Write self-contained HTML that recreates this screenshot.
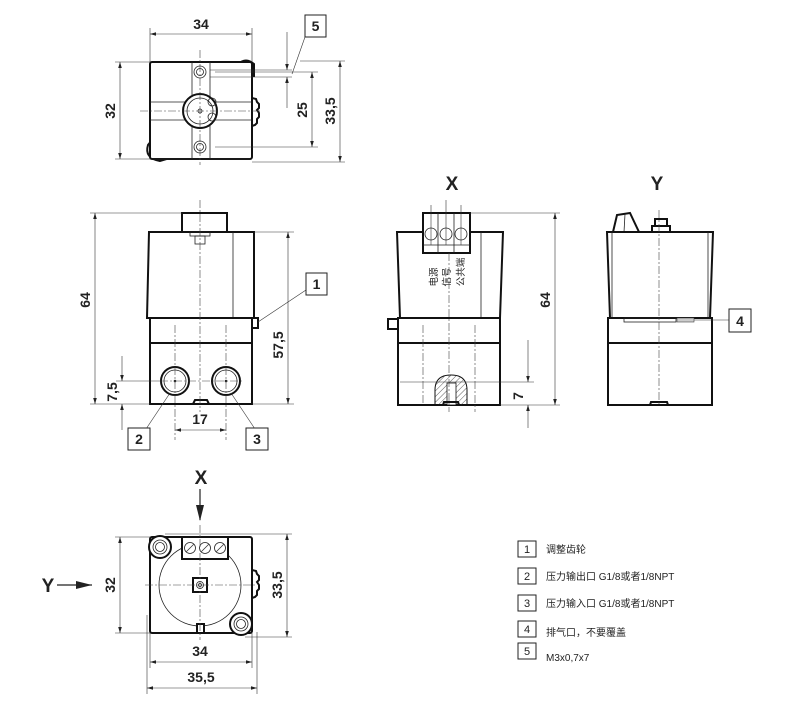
<!DOCTYPE html>
<html><head><meta charset="utf-8"><style>
html,body{margin:0;padding:0;background:#fff}
svg{display:block}
text{font-family:"Liberation Sans","Noto Sans CJK SC",sans-serif;fill:#222}
.o{fill:none;stroke:#111;stroke-width:2}
.w{fill:#fff;stroke:#111;stroke-width:2}
.t{fill:none;stroke:#222;stroke-width:0.8}
.d{fill:none;stroke:#333;stroke-width:0.6}
.c{fill:none;stroke:#444;stroke-width:0.6;stroke-dasharray:8 2 2 2}
.b{fill:#fff;stroke:#222;stroke-width:1}
.dim{font-size:14px;font-weight:bold}
.lg{font-size:10px}
</style></head><body>
<svg width="790" height="708" viewBox="0 0 790 708" xmlns="http://www.w3.org/2000/svg">
<defs>
<marker id="a" viewBox="0 0 10 10" refX="10" refY="5" markerWidth="9" markerHeight="6" orient="auto-start-reverse" markerUnits="userSpaceOnUse"><path d="M0,2 L10,5 L0,8z" fill="#222"/></marker>
<pattern id="h" width="4" height="4" patternUnits="userSpaceOnUse" patternTransform="rotate(45)"><line x1="0" y1="0" x2="0" y2="4" stroke="#333" stroke-width="0.8"/></pattern>
</defs>

<!-- ============ TOP VIEW ============ -->
<path class="w" d="M238,64 Q246,57 254,64 L254,76 L248,76z"/>
<path class="w" d="M148,145 Q144,158 160,161 L170,158 L152,140z"/>
<rect class="w" x="150" y="62" width="102" height="97" rx="2"/>
<path class="o" d="M252,98 l4,1 l1,3 l2,2 l0,4 l-2,2 l2,3 l0,4 l-2,2 l0,4 l-2,2 l-3,1" stroke-width="1.2"/>
<line class="t" x1="192" y1="62" x2="192" y2="159"/>
<line class="t" x1="210" y1="62" x2="210" y2="159"/>
<line class="t" x1="150" y1="102" x2="252" y2="102"/>
<line class="t" x1="150" y1="120" x2="252" y2="120"/>
<circle class="w" cx="200" cy="111" r="17" stroke-width="1.2"/>
<circle class="t" cx="200" cy="111" r="13"/>
<circle class="t" cx="200" cy="111" r="2"/>
<circle class="t" cx="212" cy="102" r="4"/><circle class="t" cx="212" cy="117" r="4"/>
<circle class="t" cx="200" cy="72" r="6"/><circle class="t" cx="200" cy="72" r="3.5"/>
<circle class="t" cx="200" cy="147" r="6"/><circle class="t" cx="200" cy="147" r="3.5"/>
<line class="c" x1="200" y1="50" x2="200" y2="165"/>
<line class="c" x1="140" y1="111" x2="262" y2="111"/>
<line class="d" x1="150" y1="28" x2="150" y2="62"/><line class="d" x1="252" y1="28" x2="252" y2="62"/>
<line class="d" x1="150" y1="34" x2="252" y2="34" marker-start="url(#a)" marker-end="url(#a)"/>
<text class="dim" x="201" y="29" text-anchor="middle">34</text>
<line class="d" x1="115" y1="62" x2="150" y2="62"/><line class="d" x1="115" y1="159" x2="250" y2="159"/>
<line class="d" x1="120" y1="62" x2="120" y2="159" marker-start="url(#a)" marker-end="url(#a)"/>
<text class="dim" transform="translate(115,111) rotate(-90)" text-anchor="middle">32</text>
<line class="d" x1="215" y1="72" x2="318" y2="72"/><line class="d" x1="215" y1="147" x2="318" y2="147"/>
<line class="d" x1="312" y1="72" x2="312" y2="147" marker-start="url(#a)" marker-end="url(#a)"/>
<text class="dim" transform="translate(307,110) rotate(-90)" text-anchor="middle">25</text>
<line class="d" x1="300" y1="61" x2="345" y2="61"/><line class="d" x1="252" y1="162" x2="345" y2="162"/>
<line class="d" x1="340" y1="61" x2="340" y2="162" marker-start="url(#a)" marker-end="url(#a)"/>
<text class="dim" transform="translate(335,111) rotate(-90)" text-anchor="middle">33,5</text>
<line class="d" x1="210" y1="70" x2="292" y2="70"/><line class="d" x1="210" y1="77" x2="292" y2="77"/>
<line class="d" x1="287" y1="32" x2="287" y2="70" marker-end="url(#a)"/>
<line class="d" x1="287" y1="108" x2="287" y2="77" marker-end="url(#a)"/>
<line class="d" x1="292" y1="74" x2="305" y2="37"/>
<rect class="b" x="305" y="15" width="21" height="22"/>
<text class="dim" x="315.5" y="31" text-anchor="middle">5</text>

<!-- ============ FRONT VIEW ============ -->
<rect class="w" x="182" y="213" width="45" height="20"/>
<path class="w" d="M149,232 L254,232 L254,318 L147,318z"/>
<line class="t" x1="233" y1="232" x2="233" y2="318"/>
<rect class="t" x="190" y="232" width="20" height="4"/><rect class="t" x="195" y="236" width="10" height="8"/>
<rect class="w" x="150" y="318" width="102" height="86"/>
<line class="o" x1="150" y1="343" x2="252" y2="343" stroke-width="1.4"/>
<path class="o" d="M193,404 l2,-4 h12 l2,4" stroke-width="1.2"/>
<rect class="w" x="252" y="318" width="6" height="10" stroke-width="1"/>
<circle class="w" cx="175" cy="381" r="14" stroke-width="1.2"/><circle class="t" cx="175" cy="381" r="11" stroke-width="1.4"/><circle cx="175" cy="381" r="1.3" fill="#222"/>
<circle class="w" cx="226" cy="381" r="14" stroke-width="1.2"/><circle class="t" cx="226" cy="381" r="11" stroke-width="1.4"/><circle cx="226" cy="381" r="1.3" fill="#222"/>
<line class="c" x1="200" y1="200" x2="200" y2="412"/>
<line class="c" x1="175" y1="325" x2="175" y2="440"/><line class="c" x1="226" y1="325" x2="226" y2="440"/>
<line class="c" x1="160" y1="381" x2="242" y2="381"/>
<line class="d" x1="90" y1="213" x2="182" y2="213"/><line class="d" x1="90" y1="404" x2="150" y2="404"/>
<line class="d" x1="95" y1="213" x2="95" y2="404" marker-start="url(#a)" marker-end="url(#a)"/>
<text class="dim" transform="translate(90,300) rotate(-90)" text-anchor="middle">64</text>
<line class="d" x1="254" y1="232" x2="294" y2="232"/><line class="d" x1="252" y1="404" x2="294" y2="404"/>
<line class="d" x1="288" y1="232" x2="288" y2="404" marker-start="url(#a)" marker-end="url(#a)"/>
<text class="dim" transform="translate(283,345) rotate(-90)" text-anchor="middle">57,5</text>
<line class="d" x1="116" y1="381" x2="160" y2="381"/>
<line class="d" x1="122" y1="356" x2="122" y2="381" marker-end="url(#a)"/>
<line class="d" x1="122" y1="430" x2="122" y2="404" marker-end="url(#a)"/>
<text class="dim" transform="translate(117,392) rotate(-90)" text-anchor="middle">7,5</text>
<line class="d" x1="175" y1="430" x2="226" y2="430" marker-start="url(#a)" marker-end="url(#a)"/>
<text class="dim" x="200" y="424" text-anchor="middle">17</text>
<line class="d" x1="258" y1="322" x2="306" y2="290"/>
<rect class="b" x="306" y="273" width="21" height="22"/><text class="dim" x="316.5" y="289" text-anchor="middle">1</text>
<line class="d" x1="170" y1="393" x2="146" y2="429"/>
<rect class="b" x="128" y="428" width="22" height="22"/><text class="dim" x="139" y="444" text-anchor="middle">2</text>
<line class="d" x1="231" y1="393" x2="255" y2="429"/>
<rect class="b" x="246" y="428" width="22" height="22"/><text class="dim" x="257" y="444" text-anchor="middle">3</text>

<!-- ============ X VIEW ============ -->
<text class="dim" x="452" y="190" text-anchor="middle" style="font-size:19px">X</text>
<path class="w" d="M397,232 L503,232 L500,318 L400,318z"/>
<line class="t" x1="481" y1="232" x2="481" y2="318"/>
<rect class="w" x="423" y="213" width="47" height="40"/>
<line class="t" x1="438" y1="213" x2="438" y2="253"/><line class="t" x1="454" y1="213" x2="454" y2="253"/>
<line class="t" x1="423" y1="245" x2="470" y2="245"/>
<circle class="t" cx="431" cy="234" r="6"/><circle class="t" cx="446" cy="234" r="6"/><circle class="t" cx="461" cy="234" r="6"/>
<line class="d" x1="431" y1="205" x2="431" y2="245"/><line class="d" x1="446" y1="200" x2="446" y2="245"/><line class="d" x1="461" y1="205" x2="461" y2="245"/>
<g font-size="9.5" fill="#333">
<text transform="translate(437,277) rotate(-90)" text-anchor="middle">电源</text>
<text transform="translate(450,277) rotate(-90)" text-anchor="middle">信号</text>
<text transform="translate(464,272) rotate(-90)" text-anchor="middle">公共端</text>
</g>
<rect class="w" x="398" y="318" width="102" height="87"/>
<line class="o" x1="398" y1="343" x2="500" y2="343" stroke-width="1.4"/>
<rect class="w" x="388" y="319" width="10" height="10" stroke-width="1"/>
<path d="M435,405 L435,390 Q435,375 451,375 Q467,375 467,390 L467,405z" fill="url(#h)" stroke="#111" stroke-width="1"/>
<rect x="447" y="383" width="9" height="22" fill="#fff" stroke="#111" stroke-width="0.8"/>
<path class="o" d="M443,405 l1,-3 h14 l1,3" stroke-width="1"/>
<line class="c" x1="449" y1="253" x2="449" y2="412"/>
<line class="c" x1="423" y1="325" x2="423" y2="405"/><line class="c" x1="475" y1="325" x2="475" y2="412"/>
<line class="d" x1="400" y1="382" x2="534" y2="382"/>
<line class="d" x1="470" y1="213" x2="560" y2="213"/><line class="d" x1="500" y1="405" x2="560" y2="405"/>
<line class="d" x1="555" y1="213" x2="555" y2="405" marker-start="url(#a)" marker-end="url(#a)"/>
<text class="dim" transform="translate(550,300) rotate(-90)" text-anchor="middle">64</text>
<line class="d" x1="528" y1="340" x2="528" y2="382" marker-end="url(#a)"/>
<line class="d" x1="528" y1="428" x2="528" y2="405" marker-end="url(#a)"/>
<text class="dim" transform="translate(523,396) rotate(-90)" text-anchor="middle">7</text>

<!-- ============ Y VIEW ============ -->
<text class="dim" x="657" y="190" text-anchor="middle" style="font-size:19px">Y</text>
<path class="w" d="M613,232 L617,215 L630,213 L639,232z" stroke-width="1.2"/>
<line class="t" x1="625" y1="214" x2="624" y2="232"/>
<rect class="w" x="655" y="219" width="12" height="7" stroke-width="1.2"/><rect class="w" x="652" y="226" width="18" height="6" stroke-width="1.2"/>
<path class="w" d="M607,232 L713,232 L710,318 L610,318z"/>
<line class="t" x1="612" y1="232" x2="612" y2="318"/><line class="t" x1="708" y1="232" x2="708" y2="318"/>
<rect class="w" x="608" y="318" width="104" height="87"/>
<line class="o" x1="608" y1="343" x2="712" y2="343" stroke-width="1.4"/>
<rect class="t" x="624" y="318" width="52" height="4"/><rect x="677" y="318" width="17" height="4" fill="#ccc" stroke="#444" stroke-width="0.6"/>
<path class="o" d="M650,405 l1,-3 h16 l1,3" stroke-width="1"/>
<line class="c" x1="659" y1="210" x2="659" y2="405"/>
<line class="d" x1="694" y1="320" x2="729" y2="320"/>
<rect class="b" x="729" y="309" width="22" height="23"/><text class="dim" x="740" y="326" text-anchor="middle">4</text>

<!-- ============ BOTTOM VIEW ============ -->
<text class="dim" x="201" y="484" text-anchor="middle" style="font-size:19px">X</text>
<line x1="200" y1="489" x2="200" y2="520" stroke="#222" stroke-width="1.2"/><path d="M196,505 L200,521 L204,505z" fill="#222"/>
<text class="dim" x="48" y="592" text-anchor="middle" style="font-size:19px">Y</text>
<line x1="57" y1="585" x2="92" y2="585" stroke="#222" stroke-width="1.2"/><path d="M76,581 L92,585 L76,589z" fill="#222"/>
<rect class="w" x="150" y="537" width="102" height="96" rx="2"/>
<path class="o" d="M252,570 l4,1 l1,3 l2,2 l0,4 l-2,2 l2,3 l0,4 l-2,2 l0,4 l-2,2 l-3,1" stroke-width="1.2"/>
<circle class="t" cx="200" cy="585" r="41"/>
<rect class="w" x="182" y="537" width="46" height="22" stroke-width="1"/>
<g class="t"><circle cx="190" cy="548" r="5.5"/><circle cx="205" cy="548" r="5.5"/><circle cx="220" cy="548" r="5.5"/></g>
<g stroke="#333" stroke-width="0.8"><line x1="186" y1="552" x2="194" y2="544"/><line x1="201" y1="552" x2="209" y2="544"/><line x1="216" y1="552" x2="224" y2="544"/></g>
<rect class="w" x="193" y="578" width="14" height="14" stroke-width="1"/><circle class="t" cx="200" cy="585" r="3.5"/><circle class="t" cx="200" cy="585" r="1.5"/>
<rect class="w" x="197" y="624" width="7" height="9" stroke-width="0.8"/>
<circle class="w" cx="160" cy="547" r="11" stroke-width="1.4"/><circle class="t" cx="160" cy="547" r="7"/><circle class="t" cx="160" cy="547" r="4.5"/>
<circle class="w" cx="241" cy="624" r="11" stroke-width="1.4"/><circle class="t" cx="241" cy="624" r="7"/><circle class="t" cx="241" cy="624" r="4.5"/>
<line class="c" x1="200" y1="525" x2="200" y2="640"/><line class="c" x1="145" y1="585" x2="255" y2="585"/>
<line class="d" x1="115" y1="537" x2="150" y2="537"/><line class="d" x1="115" y1="633" x2="150" y2="633"/>
<line class="d" x1="120" y1="537" x2="120" y2="633" marker-start="url(#a)" marker-end="url(#a)"/>
<text class="dim" transform="translate(115,585) rotate(-90)" text-anchor="middle">32</text>
<line class="d" x1="165" y1="534" x2="292" y2="534"/><line class="d" x1="245" y1="637" x2="292" y2="637"/>
<line class="d" x1="287" y1="534" x2="287" y2="637" marker-start="url(#a)" marker-end="url(#a)"/>
<text class="dim" transform="translate(282,585) rotate(-90)" text-anchor="middle">33,5</text>
<line class="d" x1="150" y1="633" x2="150" y2="668"/><line class="d" x1="252" y1="633" x2="252" y2="668"/>
<line class="d" x1="150" y1="662" x2="252" y2="662" marker-start="url(#a)" marker-end="url(#a)"/>
<text class="dim" x="200" y="656" text-anchor="middle">34</text>
<line class="d" x1="147" y1="615" x2="147" y2="694"/><line class="d" x1="257" y1="632" x2="257" y2="694"/>
<line class="d" x1="147" y1="688" x2="257" y2="688" marker-start="url(#a)" marker-end="url(#a)"/>
<text class="dim" x="201" y="682" text-anchor="middle">35,5</text>

<!-- ============ LEGEND ============ -->
<g>
<rect class="b" x="518" y="541" width="18" height="16"/><text x="527" y="553" text-anchor="middle" style="font-size:11px">1</text><text class="lg" x="546" y="553">调整齿轮</text>
<rect class="b" x="518" y="568" width="18" height="16"/><text x="527" y="580" text-anchor="middle" style="font-size:11px">2</text><text class="lg" x="546" y="580">压力输出口 G1/8或者1/8NPT</text>
<rect class="b" x="518" y="595" width="18" height="16"/><text x="527" y="607" text-anchor="middle" style="font-size:11px">3</text><text class="lg" x="546" y="607">压力输入口 G1/8或者1/8NPT</text>
<rect class="b" x="518" y="621" width="18" height="16"/><text x="527" y="633" text-anchor="middle" style="font-size:11px">4</text><text class="lg" x="546" y="636">排气口，不要覆盖</text>
<rect class="b" x="518" y="643" width="18" height="16"/><text x="527" y="655" text-anchor="middle" style="font-size:11px">5</text><text class="lg" x="546" y="661">M3x0,7x7</text>
</g>
</svg>
</body></html>
